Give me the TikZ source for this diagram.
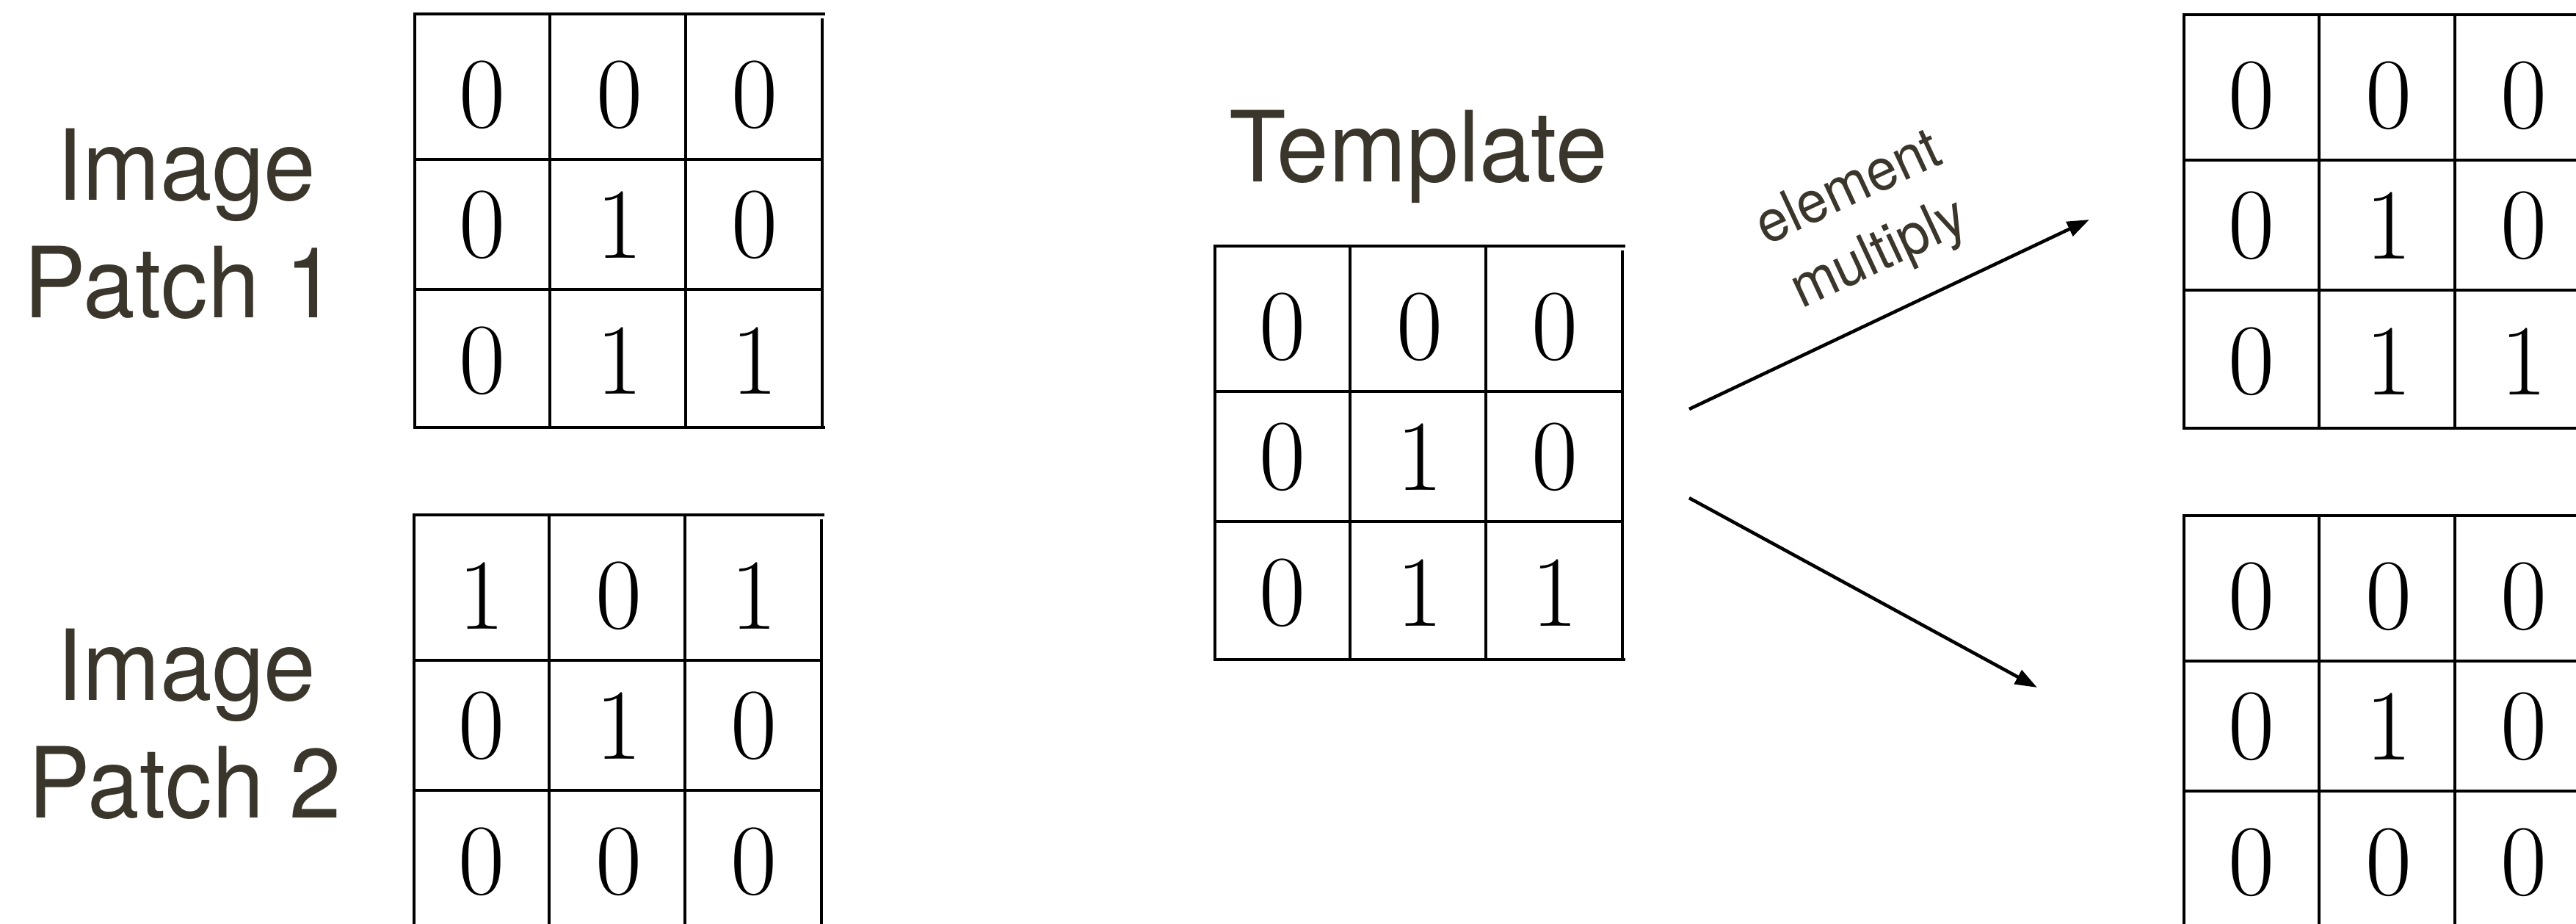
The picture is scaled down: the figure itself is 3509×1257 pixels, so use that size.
\documentclass[tikz,border=0pt]{standalone}
\usepackage{fontspec}
\usetikzlibrary{arrows.meta}
\newfontfamily\labfont{TeX Gyre Heros}[FakeStretch=0.95]
\definecolor{labcol}{RGB}{59,54,43}
\tikzset{
  gridline/.style={line width=1.35pt, line cap=rect},
  digit/.style={inner sep=0pt, font=\fontsize{39pt}{39pt}\selectfont},
  lab/.style={inner sep=0pt, text=labcol, font=\labfont\fontsize{38pt}{46pt}\selectfont},
  mult/.style={inner sep=0pt, text=labcol, align=center, font=\labfont\fontsize{22.5pt}{27.9pt}\selectfont},
  arr/.style={line width=1.3pt, -{Triangle[length=0.3cm, width=0.21cm]}}
}
% #1 name, #2 x, #3 y, #4-#6 rows as a/b/c
\newcommand\mkgrid[6]{%
  \begin{scope}[shift={(#2,#3)}]
    \draw[gridline] (0,0) -- (557,0);
    \draw[gridline] (0,0) -- (0,563);
    \draw[gridline] (0,563) -- (557,563);
    \draw[gridline] (555,8) -- (555,563);
    \draw[gridline] (184,0) -- (184,563);
    \draw[gridline] (369,0) -- (369,563);
    \draw[gridline] (0,198) -- (555,198);
    \draw[gridline] (0,375) -- (555,375);
    \foreach \a/\b/\c/\yy [count=\r] in {#4/110,#5/287,#6/472} {
      \node[digit] (#1-\r-1) at (92,\yy) {\a};
      \node[digit] (#1-\r-2) at (279,\yy) {\b};
      \node[digit] (#1-\r-3) at (463,\yy) {\c};
    }
  \end{scope}}
\begin{document}
\begin{tikzpicture}[x=0.01cm, y=-0.01cm]
  \path[use as bounding box] (0,0) rectangle (3509,1257);
  \clip (0,0) rectangle (3509,1257);

  % labels
  \node[lab, anchor=base] (im1a) at (254,272) {Image};
  \node[lab, anchor=base] (im1b) at (246,432) {Patch 1};
  \node[lab, anchor=base] (im2a) at (254,953) {Image};
  \node[lab, anchor=base] (im2b) at (252,1113) {Patch 2};
  \node[lab, anchor=base] (tpl) at (1932,247) {Template};

  % grids
  \mkgrid{g1}{565}{19}{0/0/0}{0/1/0}{0/1/1}
  \mkgrid{g2}{564}{701}{1/0/1}{0/1/0}{0/0/0}
  \mkgrid{gt}{1655}{335}{0/0/0}{0/1/0}{0/1/1}
  \mkgrid{r1}{2975}{20}{0/0/0}{0/1/0}{0/1/1}
  \mkgrid{r2}{2975}{702}{0/0/0}{0/1/0}{0/0/0}

  % arrows
  \coordinate (a1s) at (2301,557);
  \coordinate (a1e) at (2846,299);
  \coordinate (a2s) at (2301,678);
  \coordinate (a2e) at (2775,936);
  \draw[arr] (a1s) -- (a1e);
  \draw[arr] (a2s) -- (a2e);

  \node[mult, rotate=25] (mul) at (2540,304) {element\\multiply};
\end{tikzpicture}
\end{document}
